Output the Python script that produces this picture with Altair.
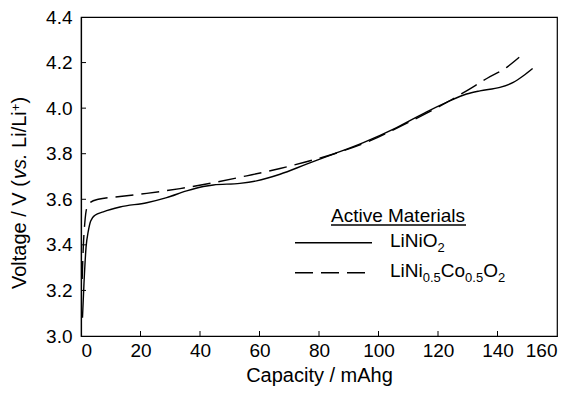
import altair as alt
import pandas as pd

# ---- data ----
solid_cap = [0.5, 1.0, 1.7, 2.45, 3.26, 4.7, 7.5, 13.1, 22.1, 28.8, 35.5, 41.1, 44.5, 53.4,
             59.0, 66.9, 75.8, 84.8, 94.9, 106.1, 116.2, 122.9, 129.6, 134.1, 140.8, 145.3,
             148.7, 151.8]
solid_v = [3.08, 3.23, 3.39, 3.46, 3.505, 3.53, 3.545, 3.566, 3.585, 3.607, 3.637, 3.656,
           3.663, 3.670, 3.681, 3.710, 3.754, 3.798, 3.849, 3.915, 3.984, 4.025, 4.062,
           4.076, 4.091, 4.113, 4.142, 4.174]

dashed_cap = [0.4, 0.8, 1.3, 1.9, 3.0, 5.8, 13.1, 22.1, 33.3, 44.5, 55.7, 66.9, 78.1, 87.1,
              97.1, 107.2, 116.2, 122.9, 129.6, 136.4, 143.1, 147.3]
dashed_v = [3.25, 3.40, 3.50, 3.56, 3.585, 3.600, 3.612, 3.626, 3.647, 3.673, 3.703, 3.735,
            3.773, 3.808, 3.856, 3.919, 3.978, 4.025, 4.076, 4.130, 4.179, 4.223]

x_tick_values = [0, 20, 40, 60, 80, 100, 120, 140, 160]
y_tick_values = [3.0, 3.2, 3.4, 3.6, 3.8, 4.0, 4.2, 4.4]
inner_x_ticks = [20, 40, 60, 80, 100, 120, 140]
inner_y_ticks = [3.2, 3.4, 3.6, 3.8, 4.0, 4.2]

legend_title = "Active Materials"
# y-axis title pieces: (text, style); "gap" is a word space between pieces
y_title_parts = [("Voltage / V (", "n"), ("vs.", "i"), (" ", "gap"), ("Li/Li", "n"),
                 ("+", "sup"), (")", "n")]

FONT = "Liberation Sans"
W, H = 476, 319

# approximate advance widths (Arial metrics, em units)
ADV = {"L": .556, "i": .222, "N": .722, "O": .778, "C": .722, "o": .556, "0": .556,
       ".": .278, "5": .556, "2": .556, "V": .667, "l": .222, "t": .278, "a": .556,
       "g": .556, "e": .556, " ": .278, "/": .278, "(": .333, ")": .333, "v": .5,
       "s": .5, "+": .584}

def adv(txt, size):
    return sum(ADV[c] for c in txt) * size

solid_df = pd.DataFrame({"cap": solid_cap, "v": solid_v})
dashed_df = pd.DataFrame({"cap": dashed_cap, "v": dashed_v})

xs = alt.Scale(domain=[0, 160], nice=False, zero=False)
ys = alt.Scale(domain=[3.0, 4.4], nice=False, zero=False)

x_axis = alt.Axis(values=x_tick_values, format="d", ticks=False, labelPadding=5,
                  title="Capacity / mAhg", titlePadding=5, grid=False)
y_axis = alt.Axis(values=y_tick_values, format=".1f", ticks=False, labelPadding=9,
                  title=None, grid=False)

solid = alt.Chart(solid_df).mark_line(color="black", strokeWidth=1.4, interpolate="monotone").encode(
    x=alt.X("cap:Q", scale=xs, axis=x_axis),
    y=alt.Y("v:Q", scale=ys, axis=y_axis),
)
dashed = alt.Chart(dashed_df).mark_line(color="black", strokeWidth=1.4, strokeDash=[18, 8],
                                         interpolate="monotone").encode(
    x=alt.X("cap:Q", scale=xs),
    y=alt.Y("v:Q", scale=ys),
)

xt = alt.Chart(pd.DataFrame({"t": inner_x_ticks})).mark_rule(color="black", strokeWidth=1).encode(
    x=alt.X("t:Q", scale=xs), y=alt.value(H), y2=alt.value(H - 5))
yt = alt.Chart(pd.DataFrame({"t": inner_y_ticks})).mark_rule(color="black", strokeWidth=1).encode(
    y=alt.Y("t:Q", scale=ys), x=alt.value(0), x2=alt.value(5))

base = alt.Chart(pd.DataFrame({"a": [0]}))
layers = [solid, dashed, xt, yt]

# ---- rotated y-axis title with italic "vs." ----
def part_size(style):
    return 13 if style == "sup" else 20

ty_total = sum(adv(t, part_size(s)) for t, s in y_title_parts)
ty = 176 + ty_total / 2
for txt, style in y_title_parts:
    size = part_size(style)
    if style != "gap":
        xx = -55 - 6 if style == "sup" else -55
        layers.append(base.mark_text(font=FONT, fontSize=size, angle=270, align="left",
                                     baseline="alphabetic", color="black",
                                     fontStyle="italic" if style == "i" else "normal").encode(
            x=alt.value(xx), y=alt.value(ty), text=alt.value(txt)))
    ty -= adv(txt, size)

# ---- legend (annotation) ----
layers.append(base.mark_text(font=FONT, fontSize=19, align="center", baseline="alphabetic",
                             color="black").encode(x=alt.value(317), y=alt.value(204.5),
                                                   text=alt.value(legend_title)))
layers.append(base.mark_rule(color="black", strokeWidth=1.3).encode(
    x=alt.value(250), x2=alt.value(385), y=alt.value(208)))
layers.append(base.mark_rule(color="black", strokeWidth=1.4).encode(
    x=alt.value(214), x2=alt.value(291), y=alt.value(225.7)))
layers.append(base.mark_rule(color="black", strokeWidth=1.4, strokeDash=[18, 8]).encode(
    x=alt.value(214), x2=alt.value(284), y=alt.value(255.7)))

def seg_layers(segments, x0, y0):
    out = []
    x = x0
    for txt, sub in segments:
        size = 13 if sub else 19
        yy = y0 + 5 if sub else y0
        out.append(base.mark_text(font=FONT, fontSize=size, align="left", baseline="alphabetic",
                                  color="black").encode(x=alt.value(x), y=alt.value(yy),
                                                        text=alt.value(txt)))
        x += adv(txt, size)
    return out

layers += seg_layers([("LiNiO", False), ("2", True)], 309, 229.7)
layers += seg_layers([("LiNi", False), ("0.5", True), ("Co", False), ("0.5", True),
                      ("O", False), ("2", True)], 309, 259.7)

chart = alt.layer(*layers).properties(
    width=W, height=H,
    autosize=alt.AutoSizeParams(type="none"),
    padding={"left": 73, "top": 9, "right": 3, "bottom": 53},
).configure_view(stroke="black", strokeWidth=1.2).configure_axis(
    labelFont=FONT, titleFont=FONT, labelFontSize=19, titleFontSize=20,
    labelColor="black", titleColor="black", titleFontWeight="normal",
    domainColor="black", domainWidth=1.2,
)

chart.save("out.html", embed_options={"renderer": "svg", "actions": False})
